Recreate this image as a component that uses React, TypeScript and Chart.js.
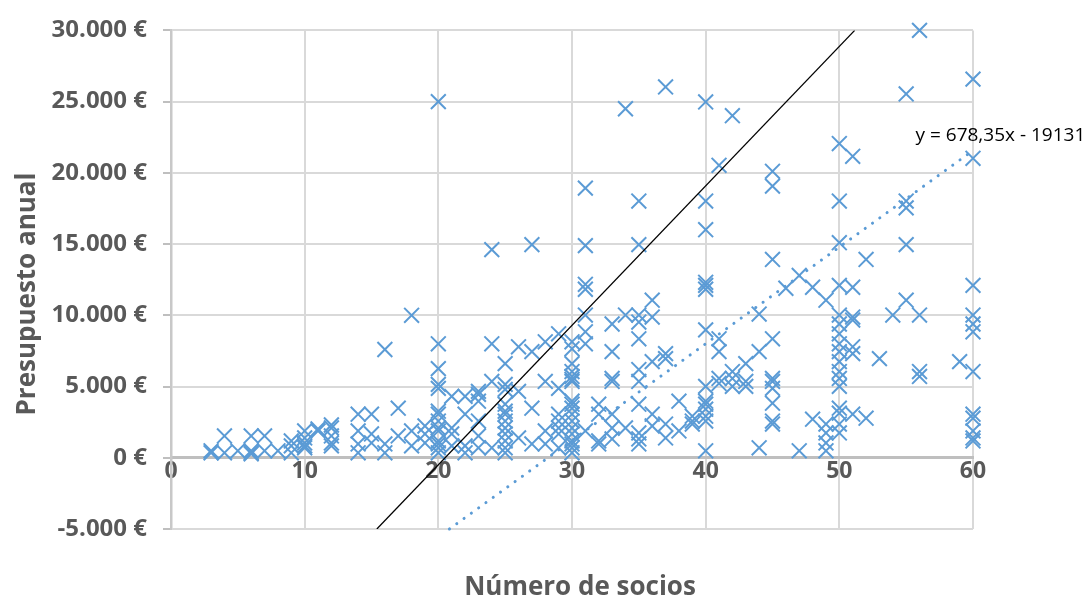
import React, { useEffect, useRef } from 'react';
import { Chart, registerables } from 'chart.js';

Chart.register(...registerables);

// ---- Data ----
const socios: number[] = [
  3, 3, 4, 4, 5, 6, 6, 6, 6, 7, 7, 8, 9, 9, 9, 10, 10, 10, 10, 10, 11, 11, 12, 12, 12, 12, 12,
  14, 14, 14, 14, 15, 15, 15, 16, 16, 16, 17, 17, 18, 18, 18, 19, 19, 19,
  20, 20, 20, 20, 20, 20, 20, 20, 20, 20, 20, 20, 20, 20,
  21, 21, 21, 21,
  22, 22, 22, 22,
  23, 23, 23, 23, 23, 23,
  24, 24, 24, 24,
  25, 25, 25, 25, 25, 25, 25, 25, 25, 25, 25, 25,
  26, 26, 26,
  27, 27, 27, 27,
  28, 28, 28, 28,
  29, 29, 29, 29, 29, 29, 29,
  30, 30, 30, 30, 30, 30, 30, 30, 30, 30, 30, 30, 30, 30, 30, 30, 30, 30,
  31, 31, 31, 31, 31, 31, 31, 31,
  32, 32, 32, 32,
  33, 33, 33, 33, 33, 33, 33,
  34, 34, 34,
  35, 35, 35, 35, 35, 35, 35, 35, 35, 35, 35,
  36, 36, 36, 36, 36,
  37, 37, 37, 37, 37,
  38, 38,
  39, 39, 39,
  40, 40, 40, 40, 40, 40, 40, 40, 40, 40, 40, 40, 40, 40,
  41, 41, 41, 41, 41,
  42, 42, 42, 42,
  43, 43, 43,
  44, 44, 44,
  45, 45, 45, 45, 45, 45, 45, 45, 45, 45,
  46,
  47, 47,
  48, 48,
  49, 49, 49, 49, 49,
  50, 50, 50, 50, 50, 50, 50, 50, 50, 50, 50, 50, 50, 50, 50, 50, 50,
  51, 51, 51, 51, 51, 51, 51,
  52, 52,
  53,
  54,
  55, 55, 55, 55, 55,
  56, 56, 56, 56,
  59,
  60, 60, 60, 60, 60, 60, 60, 60, 60, 60, 60, 60,
];

const presupuesto: number[] = [
  490, 350, 1530, 350, 490, 350, 490, 1530, 280, 1530, 490, 490, 835, 1180, 350, 835, 1390, 1880, 700, 1040, 1880, 2020, 2090, 1530, 835, 1040, 2300,
  3060, 1880, 970, 350, 3060, 1670, 1040, 970, 350, 7600, 3480, 1530, 1880, 835, 10000, 2230, 1670, 1040,
  25000, 8000, 6260, 5150, 4870, 3270, 3060, 2580, 2090, 1880, 1180, 970, 700, 350,
  4310, 2090, 835, 1670,
  4310, 835, 350, 3060,
  4660, 4450, 3970, 2580, 1530, 700,
  700, 5360, 8000, 14610,
  6610, 5150, 4800, 3760, 3270, 3060, 2580, 2090, 1670, 1180, 700, 350,
  4660, 7790, 1390,
  3480, 970, 7450, 14960,
  1880, 970, 5360, 8140,
  1670, 3060, 2580, 700, 2090, 4870, 8700,
  8140, 7650, 6610, 6050, 5710, 5500, 5360, 3970, 3760, 3480, 3060, 2580, 2090, 1670, 1180, 970, 700, 350,
  18930, 14890, 12180, 11830, 10020, 8840, 8000, 1880,
  3760, 1180, 3060, 970,
  3060, 2090, 5360, 1320, 9390, 7450, 5570,
  2090, 10020, 24500,
  1320, 3760, 5360, 1740, 970, 10020, 9530, 8350, 6190, 18020, 14960,
  2230, 3060, 11060, 9880, 6750,
  2370, 1390, 7310, 6960, 26030,
  3970, 1880,
  2580, 2920, 2370,
  5010, 3970, 3760, 3410, 2920, 2580, 490, 12100, 11830, 8980, 18020, 16010, 12320, 24980,
  5220, 8350, 7450, 5570, 20530,
  5010, 6050, 5570, 24010,
  5010, 6610, 5360,
  10090, 7450, 700,
  5360, 4870, 3830, 2580, 2370, 8350, 5570, 20110, 19070, 13920,
  11900,
  12800, 490,
  2710, 11970,
  2370, 1740, 1040, 490, 11060,
  5010, 3480, 3130, 2370, 1740, 12100, 10020, 9390, 8700, 8000, 7450, 6750, 6050, 5570, 18020, 15100, 22060,
  3060, 11970, 9880, 9670, 7790, 7310, 21160,
  2780, 13920,
  6960,
  10020,
  11060, 18020, 17540, 14960, 25540,
  10020, 6050, 5710, 30000,
  6750,
  3060, 2780, 1880, 1390, 1180, 12100, 10020, 9390, 8840, 6050, 26580, 21020,
];

// reference (black) line end points
const refLineX: number[] = [15.4, 51.15];
const refLineY: number[] = [-5000, 30000];

// linear trend line end points (y = 678,35x - 19131)
const trendX: number[] = [20.83, 60];
const trendY: number[] = [-5000, 21570];
const trendLabel = 'y = 678,35x - 19131';

const xTicks: number[] = [0, 10, 20, 30, 40, 50, 60];
const yTicks: number[] = [-5000, 0, 5000, 10000, 15000, 20000, 25000, 30000];

const xTitle = 'Número de socios';
const yTitle = 'Presupuesto anual';

const fmtEuro = (v: number): string => {
  const s = Math.abs(v).toString().replace(/\B(?=(\d{3})+(?!\d))/g, '.');
  return (v < 0 ? '-' : '') + s + ' €';
};

const TEXT_COLOR = '#595959';
const BLUE = '#5B9BD5';
const FONT = '"Open Sans", "Liberation Sans", sans-serif';

const textPlugin = {
  id: 'textPlugin',
  afterDraw(chart: any) {
    const { ctx, scales } = chart;
    ctx.save();
    ctx.fillStyle = TEXT_COLOR;
    ctx.font = `bold 26px ${FONT}`;
    ctx.textAlign = 'center';
    ctx.textBaseline = 'middle';
    ctx.fillText(xTitle, 580, 588);
    ctx.translate(28, 294);
    ctx.rotate(-Math.PI / 2);
    ctx.fillText(yTitle, 0, 0);
    ctx.restore();

    ctx.save();
    ctx.fillStyle = '#000000';
    ctx.font = `19px ${FONT}`;
    ctx.textAlign = 'left';
    ctx.textBaseline = 'middle';
    ctx.fillText(trendLabel, scales.x.getPixelForValue(55.7), scales.y.getPixelForValue(22650));
    ctx.restore();
  },
};

export default function App() {
  const canvasRef = useRef<HTMLCanvasElement | null>(null);

  useEffect(() => {
    if (!canvasRef.current) return;
    const points = socios.map((x, i) => ({ x, y: presupuesto[i] }));
    const chart = new Chart(canvasRef.current, {
      type: 'scatter',
      data: {
        datasets: [
          {
            type: 'line',
            label: 'Tendencia',
            data: trendX.map((x, i) => ({ x, y: trendY[i] })),
            borderColor: BLUE,
            borderWidth: 3,
            borderDash: [0.1, 8.9],
            borderCapStyle: 'round',
            pointRadius: 0,
            fill: false,
            clip: false,
          } as any,
          {
            type: 'line',
            label: 'Referencia',
            data: refLineX.map((x, i) => ({ x, y: refLineY[i] })),
            borderColor: '#000000',
            borderWidth: 1.3,
            pointRadius: 0,
            fill: false,
          } as any,
          {
            label: 'Presupuesto',
            data: points,
            pointStyle: 'crossRot',
            pointRadius: 10.5,
            pointBorderWidth: 2,
            borderColor: BLUE,
            backgroundColor: BLUE,
            clip: false,
          } as any,
        ],
      },
      options: {
        animation: false,
        responsive: true,
        maintainAspectRatio: false,
        layout: { padding: { left: 0, top: 26, right: 116, bottom: 70 } },
        plugins: {
          legend: { display: false },
          tooltip: { enabled: false },
        },
        scales: {
          x: {
            type: 'linear',
            position: { y: 0 } as any,
            min: 0,
            max: 60,
            afterBuildTicks: (scale: any) => {
              scale.ticks = xTicks.map((v) => ({ value: v }));
            },
            grid: {
              color: '#D9D9D9',
              lineWidth: 2,
              drawTicks: false,
            },
            border: { color: '#BFBFBF', width: 3 },
            ticks: {
              padding: 0,
              color: TEXT_COLOR,
              font: { family: FONT, size: 23, weight: 'bold' },
              maxRotation: 0,
            },
          },
          y: {
            type: 'linear',
            min: -5000,
            max: 30000,
            afterBuildTicks: (scale: any) => {
              scale.ticks = yTicks.map((v) => ({ value: v }));
            },
            afterFit: (scale: any) => {
              scale.width = 171;
            },
            grid: {
              color: '#D9D9D9',
              lineWidth: 2,
              tickLength: 8,
              tickColor: '#BFBFBF',
            },
            border: { color: '#C8C8C8', width: 2.5 },
            ticks: {
              padding: 16,
              color: TEXT_COLOR,
              font: { family: FONT, size: 24, weight: 'bold' },
              callback: (v: any) => fmtEuro(Number(v)),
            },
          },
        },
      },
      plugins: [textPlugin],
    });
    return () => chart.destroy();
  }, []);

  return (
    <div style={{ position: 'fixed', left: 0, top: 0, width: 1089, height: 599, background: '#ffffff' }}>
      <canvas ref={canvasRef} />
    </div>
  );
}
